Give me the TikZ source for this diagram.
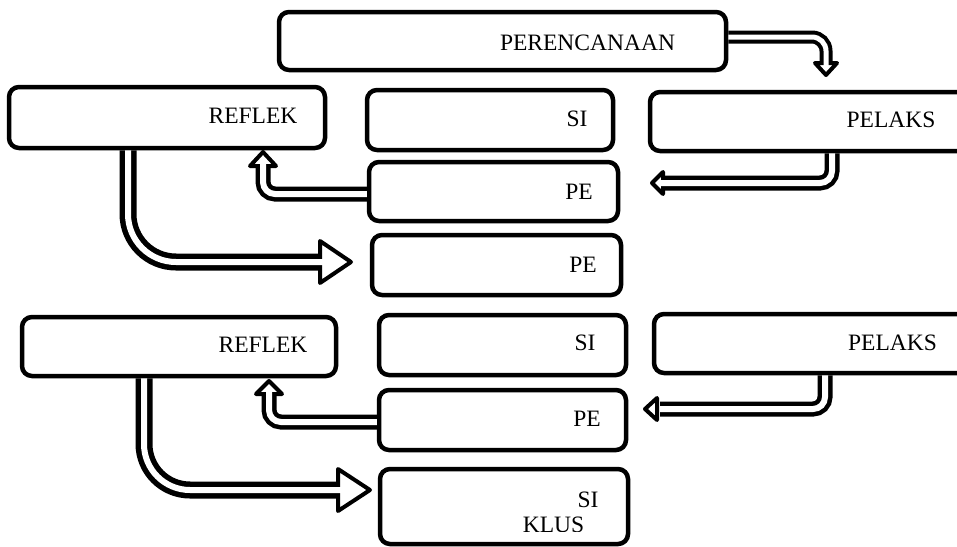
\documentclass[tikz,border=0pt]{standalone}
\usepackage{fontspec}
\setmainfont{Liberation Serif}
\newcommand{\blockarrow}[5]{%
  \draw[line width=#1, rounded corners=#3] #4;
  \draw[line width=4pt, fill=white, line join=round] #5 -- cycle;
  \draw[line width=#2, white, rounded corners=#3] #4;
}
\begin{document}
\begin{tikzpicture}[x=1pt,y=-1pt,
  box/.style={draw, line width=4.5pt, rounded corners=10pt, rectangle, inner sep=0pt},
  lbl/.style={inner sep=0pt, font=\fontsize{23.5}{28}\selectfont}]
\useasboundingbox (0,0) rectangle (957,546);
\clip (0,0) rectangle (957,546);
% boxes
\node[box, minimum width=447pt, minimum height=58pt] (per)  at (502.5,41)   {};
\node[box, minimum width=316pt, minimum height=61pt] (ref1) at (167,117.5)  {};
\node[box, minimum width=246pt, minimum height=60pt] (si1)  at (490,120)    {};
\node[box, minimum width=249pt, minimum height=59pt] (pe1)  at (493.5,191.5){};
\node[box, minimum width=249pt, minimum height=60pt] (pe2)  at (496.5,265)  {};
\node[box, minimum width=350pt, minimum height=59pt] (pel1) at (825,121.5)  {};
\node[box, minimum width=314pt, minimum height=59pt] (ref2) at (179,346.5)  {};
\node[box, minimum width=247pt, minimum height=60pt] (si2)  at (502.5,345)  {};
\node[box, minimum width=247pt, minimum height=60pt] (pe3)  at (502.5,420)  {};
\node[box, minimum width=346pt, minimum height=59pt] (pel2) at (827,343.5)  {};
\node[box, minimum width=248pt, minimum height=75pt] (sik)  at (504,506.5)  {};
% labels
\node[lbl] (tper)  at (587.5,43)  {PERENCANAAN};
\node[lbl] (tref1) at (253,115.5) {REFLEK};
\node[lbl] (tsi1)  at (577,118.5) {SI};
\node[lbl] (tpe1)  at (579,191.5) {PE};
\node[lbl] (tpe2)  at (583,265)   {PE};
\node[lbl] (tpel1) at (891,120)   {PELAKS};
\node[lbl] (tref2) at (263,344.5) {REFLEK};
\node[lbl] (tsi2)  at (585,343)   {SI};
\node[lbl] (tpe3)  at (587,419)   {PE};
\node[lbl] (tpel2) at (892.5,342.5) {PELAKS};
\node[lbl] (tsi3)  at (588,500)   {SI};
\begin{scope}
  \clip (500,505) rectangle (620,531);
  \node[lbl] (tklus) at (553.5,525) {KLUS};
\end{scope}
% arrows
\blockarrow{13pt}{5pt}{14pt}{(per.east |- 0,37) -- (826,37) -- (826,66)}{(815,63) -- (837,63) -- (826,75)}
\blockarrow{15pt}{6pt}{12pt}{(pel1.south -| 832,0) -- (832,183) -- (660,183)}{(663,172) -- (663,194) -- (652,183)}
\blockarrow{15pt}{6pt}{12pt}{(pe1.west |- 0,194) -- (263,194) -- (263,163)}{(250,166) -- (276,166) -- (263,152)}
\blockarrow{17pt}{6pt}{48pt}{(ref1.south -| 128,0) -- (128,262) -- (323,262)}{(320,241) -- (320,283) -- (351,262)}
\blockarrow{15pt}{6pt}{12pt}{(pel2.south -| 825,0) -- (825,409) -- (660,409)}{(657,398) -- (657,420) -- (645,409)}
\blockarrow{15pt}{6pt}{12pt}{(pe3.west |- 0,422) -- (269,422) -- (269,391)}{(256,394) -- (282,394) -- (269,381)}
\blockarrow{17pt}{6pt}{46pt}{(ref2.south -| 144,0) -- (144,490) -- (341,490)}{(338,469) -- (338,511) -- (370,490)}
\end{tikzpicture}
\end{document}
